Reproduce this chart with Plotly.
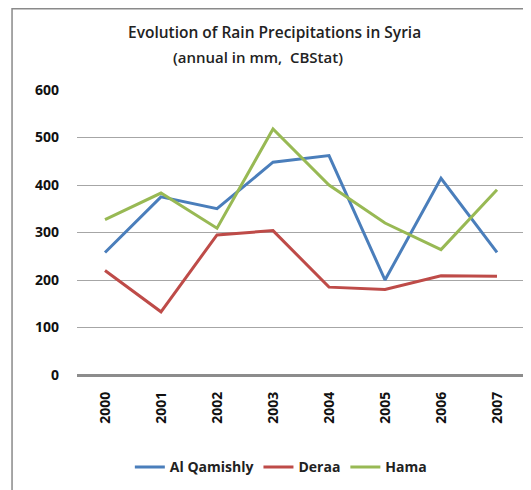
import plotly.graph_objects as go

years = ["2000", "2001", "2002", "2003", "2004", "2005", "2006", "2007"]
al_qamishly = [258, 375, 350, 448, 462, 200, 414, 258]
deraa = [220, 133, 295, 304, 185, 180, 209, 208]
hama = [327, 383, 309, 518, 400, 320, 264, 390]

series = [
    ("Al Qamishly", al_qamishly, "#4A7EBB"),
    ("Deraa", deraa, "#BE4B48"),
    ("Hama", hama, "#98B954"),
]

font_family = "'Open Sans', Lato, sans-serif"

fig = go.Figure()
for name, vals, color in series:
    fig.add_trace(go.Scatter(
        x=years, y=vals, name=name, mode="lines",
        line=dict(color=color, width=3),
    ))

# page has an 8px body margin, so the figure is sized to fit the 531x490 window
fig.update_layout(
    width=523, height=482,
    margin=dict(l=69, r=6, t=82, b=115),
    paper_bgcolor="white", plot_bgcolor="white",
    font=dict(family=font_family, color="#111"),
    showlegend=True,
    legend=dict(
        orientation="h", x=0.455, xanchor="center", y=-0.324, yanchor="middle",
        font=dict(size=14, color="#222", weight="bold"), itemwidth=30,
    ),
    xaxis=dict(
        type="category", range=[-0.5, 7.5], tickangle=-90,
        showgrid=False, showline=False, ticks="",
        tickfont=dict(size=14, color="#111", family=font_family, weight="bold"),
        ticklabelstandoff=13,
    ),
    yaxis=dict(
        range=[0, 600], dtick=100, showgrid=True, gridcolor="#a6a6a6", gridwidth=1.3,
        zeroline=True, zerolinecolor="#8c8c8c", zerolinewidth=2.5,
        showline=False, ticks="",
        tickfont=dict(size=14, color="#111", family=font_family, weight="bold"),
        ticklabelstandoff=17,
    ),
    annotations=[
        dict(text="Evolution of Rain Precipitations in Syria", xref="paper", yref="paper",
             x=0.44, y=1.203, xanchor="center", yanchor="middle", showarrow=False,
             font=dict(size=15.5, color="#222", family=font_family, weight=600)),
        dict(text="(annual in mm,  CBStat)", xref="paper", yref="paper",
             x=0.404, y=1.116, xanchor="center", yanchor="middle", showarrow=False,
             font=dict(size=15, color="#222", family=font_family, weight=600)),
    ],
    shapes=[
        dict(type="rect", xref="paper", yref="paper", x0=-0.145, x1=1.1, y0=-0.6, y1=1.285,
             line=dict(color="#8a8a8a", width=1.5), fillcolor="rgba(0,0,0,0)", layer="below"),
    ],
)

fig.write_html("out.html")
